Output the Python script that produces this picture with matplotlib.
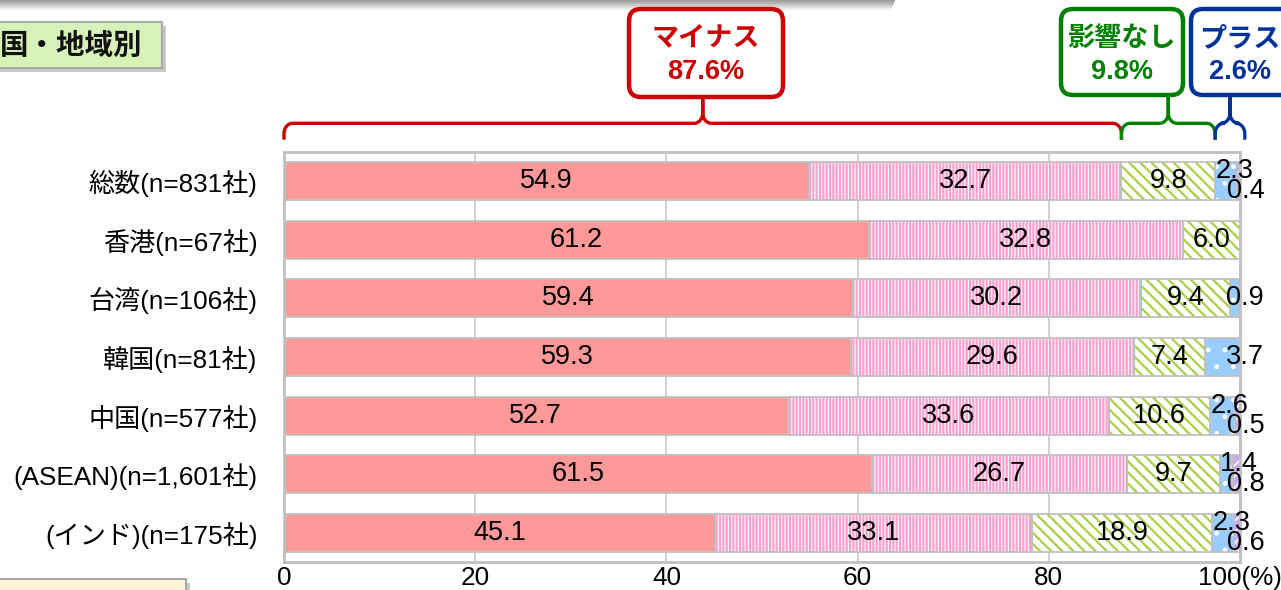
import matplotlib
matplotlib.use('Agg')
import matplotlib.pyplot as plt
import numpy as np
from matplotlib.patches import FancyBboxPatch, Rectangle
from matplotlib.transforms import blended_transform_factory

plt.rcParams['font.family'] = ['Liberation Sans', 'Noto Sans CJK JP']

# data
categories = ['総数(n=831社)', '香港(n=67社)', '台湾(n=106社)', '韓国(n=81社)',
              '中国(n=577社)', '(ASEAN)(n=1,601社)', '(インド)(n=175社)']
minus_big = [54.9, 61.2, 59.4, 59.3, 52.7, 61.5, 45.1]
minus_small = [32.7, 32.8, 30.2, 29.6, 33.6, 26.7, 33.1]
no_effect = [9.8, 6.0, 9.4, 7.4, 10.6, 9.7, 18.9]
plus_a = [2.3, 0.0, 0.9, 3.7, 2.6, 1.4, 2.3]
plus_b = [0.4, 0.0, 0.0, 0.0, 0.5, 0.8, 0.6]
xticks = [0, 20, 40, 60, 80, 100]
xtick_labels = ['0', '20', '40', '60', '80', '100(%)']
group_names = ['マイナス', '影響なし', 'プラス']
group_totals = ['87.6%', '9.8%', '2.6%']

W, H = 1281, 590
fig = plt.figure(figsize=(W / 100, H / 100), dpi=100)
ax = fig.add_axes([284 / W, 1 - 562 / H, 956 / W, 410 / H])

y = np.arange(len(categories))
series = [minus_big, minus_small, no_effect, plus_a, plus_b]
# (face, hatch, hatch colour, hatch width)
styles = [('#ff9999', None, '#ff9999', 1.0),
          ('#ff9fcf', '|||||', '#ffffff', 0.8),
          ('#ffffff', '\\\\\\', '#a8d048', 1.6),
          ('#99ccff', '.', '#ffffff', 1.0),
          ('#cfa6ff', '///', '#ffffff', 1.2)]
bar_h = 0.65
left = np.zeros(len(categories))
for vals, (fc, hatch, hc, hw) in zip(series, styles):
    vals = np.array(vals)
    with plt.rc_context({'hatch.linewidth': hw}):
        ax.barh(y, vals, left=left, height=bar_h, color=fc, hatch=hatch,
                edgecolor=hc, linewidth=0, zorder=2)
    ax.barh(y, vals, left=left, height=bar_h, color='none',
            edgecolor='#c0c0c0', linewidth=1.3, zorder=3)
    left += vals

fs = 19.5
cum = np.zeros(len(categories))
for vals in series[:3]:
    for i, v in enumerate(vals):
        ax.text(cum[i] + v / 2, y[i], f'{v:.1f}', ha='center', va='center',
                fontsize=fs, zorder=4)
    cum += np.array(vals)

# small plus segments are labelled at the right end of the bar
for i in range(len(categories)):
    start = cum[i]
    if plus_a[i] > 0 and plus_b[i] > 0:
        ax.text(start + 2.0, y[i] - 0.17, f'{plus_a[i]:.1f}', ha='center',
                va='center', fontsize=fs, zorder=4, clip_on=False)
        ax.text(100.6, y[i] + 0.17, f'{plus_b[i]:.1f}', ha='center',
                va='center', fontsize=fs, zorder=4, clip_on=False)
    elif plus_a[i] > 0:
        ax.text(100.5, y[i], f'{plus_a[i]:.1f}', ha='center', va='center',
                fontsize=fs, zorder=4, clip_on=False)

ax.set_xlim(0, 100)
ax.set_ylim(len(categories) - 0.5, -0.5)
ax.set_yticks(y)
ax.set_yticklabels(categories, fontsize=18.8)
ax.set_xticks(xticks)
ax.set_xticklabels(xtick_labels, fontsize=18.8)
ax.tick_params(length=0)
ax.tick_params(axis='y', pad=19)
ax.tick_params(axis='x', pad=3)
ax.grid(axis='x', color='#c8c8c8', linewidth=1.2, zorder=0)
ax.set_axisbelow(True)
for s in ax.spines.values():
    s.set_color('#c0c0c0')
    s.set_linewidth(2)

# braces above the first bar
trans = blended_transform_factory(ax.transData, ax.transAxes)
b1 = minus_big[0] + minus_small[0]
b2 = b1 + no_effect[0]
spans = [(0, b1, '#cc0000'), (b1, b2, '#008000'), (b2, 100.5, '#003399')]


def brace(x0, x1, color):
    yb, ym, yt = 1.03, 1.07, 1.135
    r, rx = 0.025, 0.9
    xc = (x0 + x1) / 2
    t = np.linspace(0, np.pi / 2, 12)
    xs = [x0] + list(x0 + rx - rx * np.cos(t)) + list(xc - rx + rx * np.sin(t)) + [xc]
    ys = [yb] + list(ym - r + r * np.sin(t)) + list(ym + r - r * np.cos(t)) + [yt]
    rxs = [x1] + list(x1 - rx + rx * np.cos(t)) + list(xc + rx - rx * np.sin(t)) + [xc]
    ax.plot(xs + rxs[::-1], ys + ys[::-1], color=color, linewidth=2.4,
            transform=trans, clip_on=False, solid_capstyle='butt',
            solid_joinstyle='round')


for x0, x1, c in spans:
    brace(x0, x1, c)

# overlay axes in pixel coordinates for the decorations
deco = fig.add_axes([0, 0, 1, 1], zorder=5)
deco.set_xlim(0, W)
deco.set_ylim(H, 0)
deco.axis('off')
deco.patch.set_alpha(0)

# gray shadow strip along the top
for k, g in enumerate(['#a0a0a0', '#b4b4b4', '#c8c8c8', '#dcdcdc', '#eeeeee']):
    deco.add_patch(Rectangle((0, 2 * k), 895 - k, 2, color=g, linewidth=0))

# section title box
deco.add_patch(Rectangle((-6, 26), 172, 46, color='#c8c8c8', linewidth=0))
deco.add_patch(Rectangle((-10, 22), 172, 46, facecolor='#d6f2b8',
                         edgecolor='#a8a8a8', linewidth=1.5))
deco.text(0, 46, '国・地域別', fontsize=20.5, fontweight='bold',
          family=['Noto Sans CJK JP'], ha='left', va='center', color='#111111')

# cut-off box at the bottom left
deco.add_patch(Rectangle((-6, 583), 196, 20, color='#c8c8c8', linewidth=0))
deco.add_patch(Rectangle((-10, 579), 196, 20, facecolor='#fff3d6',
                         edgecolor='#a8a8a8', linewidth=1.5))

# group boxes
boxes = [(629, 9, 154, 88, '#cc0000'), (1061, 9, 122, 86, '#008000'),
         (1191, 9, 110, 86, '#003399')]
for (bx, by, bw, bh, c), name, tot in zip(boxes, group_names, group_totals):
    deco.add_patch(FancyBboxPatch((bx, by), bw, bh,
                                  boxstyle='round,pad=0,rounding_size=12',
                                  facecolor='white', edgecolor=c, linewidth=3.2))
    cx = bx + bw / 2 if bx + bw < W else 1240
    deco.text(cx, 38, name, fontsize=19.5, fontweight='bold', color=c,
              family=['Noto Sans CJK JP'], ha='center', va='center')
    deco.text(cx, 72, tot, fontsize=19.5, fontweight='bold', color=c,
              ha='center', va='center')

fig.savefig('out.png', dpi=100)
